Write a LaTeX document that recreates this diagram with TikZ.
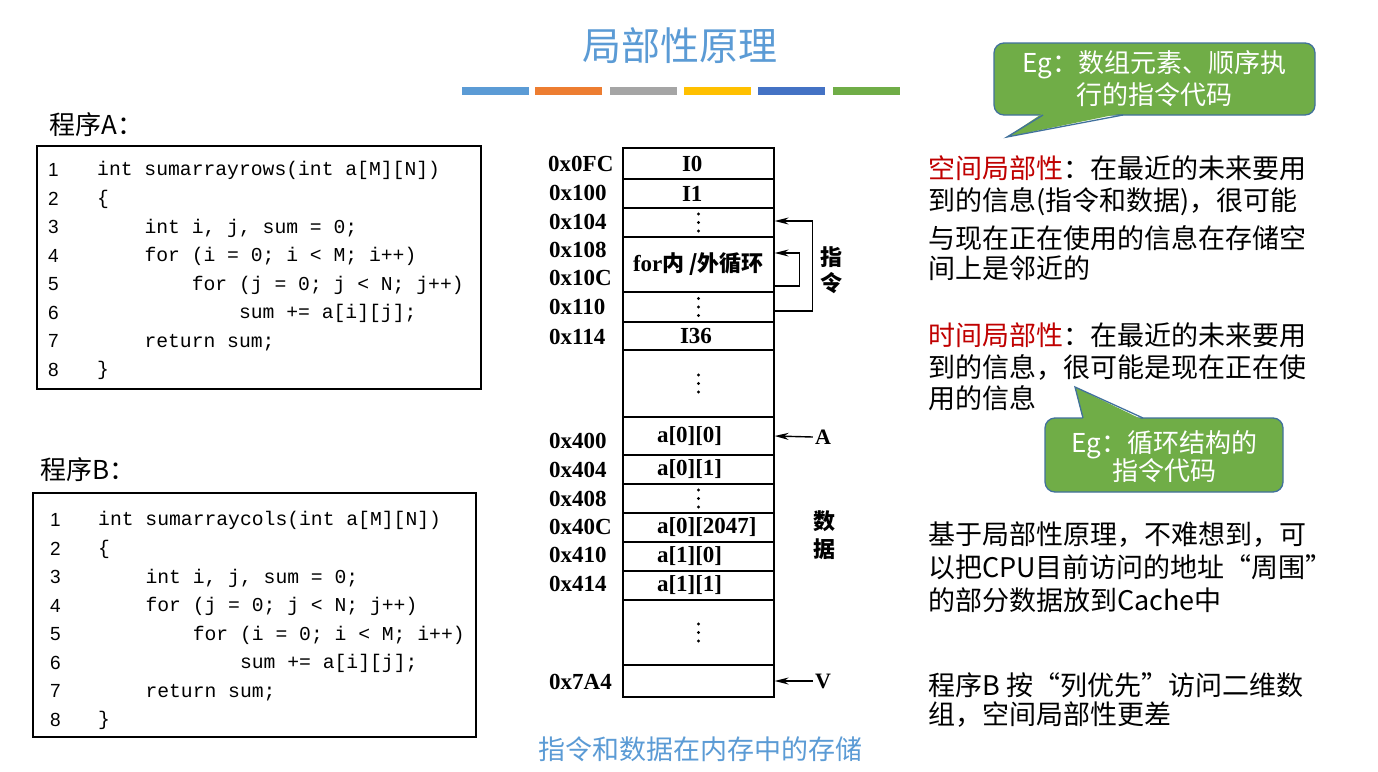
\documentclass[tikz,border=0pt]{standalone}
\usepackage{fontspec}
\setmainfont{Liberation Serif}
\newfontfamily\cjk{Noto Sans CJK SC}
\newfontfamily\codefont{Liberation Mono}
\newfontfamily\numfont{Liberation Sans}
\usetikzlibrary{arrows.meta,calc}
\definecolor{ttlblue}{HTML}{5B9BD5}
\definecolor{barorange}{HTML}{ED7D31}
\definecolor{bargray}{HTML}{A5A5A5}
\definecolor{baryellow}{HTML}{FFC000}
\definecolor{bardblue}{HTML}{4472C4}
\definecolor{bargreen}{HTML}{70AD47}
\definecolor{hred}{HTML}{C00000}
\definecolor{cofill}{HTML}{70AD47}
\definecolor{coline}{HTML}{41719C}
\begin{document}
\begin{tikzpicture}[x=1pt,y=-1pt,
  codeln/.style={anchor=west,inner sep=0pt,font=\codefont\fontsize{19.7}{24}\selectfont,text height=15pt,text depth=3.2pt},
  lnum/.style={anchor=west,inner sep=0pt,font=\numfont\fontsize{19}{22}\selectfont,text height=14pt,text depth=1.1pt},
  codebox/.style={draw,line width=1.3pt,inner sep=0pt},
  plabel/.style={anchor=west,inner sep=0pt,font=\cjk\fontsize{26}{30}\selectfont},
  mcell/.style={draw,line width=1.2pt,minimum width=151pt,inner sep=0pt,font=\bfseries\fontsize{23}{26}\selectfont},
  addr/.style={anchor=west,inner sep=0pt,font=\bfseries\fontsize{23}{26}\selectfont},
  side/.style={inner sep=0pt,font=\cjk\bfseries\fontsize{22}{26}\selectfont},
  arr/.style={line width=1.4pt,-{Stealth[length=14pt,width=7pt]}},
  rtext/.style={anchor=west,inner sep=0pt,font=\cjk\fontsize{27}{32}\selectfont},
  cobox/.style={draw=coline,fill=cofill,line width=1.3pt,rounded corners=10pt,inner sep=0pt},
  cotext/.style={inner sep=0pt,text=white,font=\cjk\fontsize{26}{30}\selectfont}]
\useasboundingbox (0,0) rectangle (1378,771);
\fill[white] (0,0) rectangle (1378,771);

% title and bars
\node[inner sep=0pt,text=ttlblue,font=\cjk\fontsize{39}{46}\selectfont] (title) at (680,46) {局部性原理};
\fill[ttlblue] (462,87) rectangle (529,95);
\fill[barorange] (535,87) rectangle (602,95);
\fill[bargray] (610,87) rectangle (677,95);
\fill[baryellow] (684,87) rectangle (751,95);
\fill[bardblue] (758,87) rectangle (825,95);
\fill[bargreen] (833,87) rectangle (900,95);

% program A
\node[plabel] (pA) at (49,125) {程序A：};
\node[codebox,minimum width=444pt,minimum height=243pt] (boxA) at (259,267.5) {};
\foreach \i in {1,...,8} \node[lnum] (nA\i) at (48,{170+(\i-1)*28.57}) {\i};
\node[codeln] (a1) at (97,170) {int sumarrayrows(int a[M][N])};
\node[codeln] (a2) at (97,198.57) {\{};
\node[codeln] (a3) at (144.3,227.14) {int i, j, sum = 0;};
\node[codeln] (a4) at (144.3,255.71) {for (i = 0; i < M; i++)};
\node[codeln] (a5) at (191.6,284.28) {for (j = 0; j < N; j++)};
\node[codeln] (a6) at (238.9,312.85) {sum += a[i][j];};
\node[codeln] (a7) at (144.3,341.42) {return sum;};
\node[codeln] (a8) at (97,370) {\}};

% program B
\node[plabel] (pB) at (40,470) {程序B：};
\node[codebox,minimum width=443pt,minimum height=244pt] (boxB) at (254.5,615) {};
\foreach \i in {1,...,8} \node[lnum] (nB\i) at (50,{520+(\i-1)*28.57}) {\i};
\node[codeln] (b1) at (98,520) {int sumarraycols(int a[M][N])};
\node[codeln] (b2) at (98,548.57) {\{};
\node[codeln] (b3) at (145.3,577.14) {int i, j, sum = 0;};
\node[codeln] (b4) at (145.3,605.71) {for (j = 0; j < N; j++)};
\node[codeln] (b5) at (192.6,634.28) {for (i = 0; i < M; i++)};
\node[codeln] (b6) at (239.9,662.85) {sum += a[i][j];};
\node[codeln] (b7) at (145.3,691.42) {return sum;};
\node[codeln] (b8) at (98,720) {\}};

% memory column
\node[mcell,minimum height=31pt] (c1) at (698.5,163.5) {\makebox[151pt][l]{\hspace{59pt}I0}};
\node[mcell,minimum height=29pt] (c2) at (698.5,193.5) {\makebox[151pt][l]{\hspace{59pt}I1}};
\node[mcell,minimum height=29pt] (c3) at (698.5,222.5) {};
\node[mcell,minimum height=55pt] (c4) at (698.5,264.5) {for{\cjk\bfseries\fontsize{22}{26}\selectfont 内 /外循环}};
\node[mcell,minimum height=30pt] (c5) at (698.5,307) {};
\node[mcell,minimum height=28pt] (c6) at (698.5,336) {\makebox[151pt][l]{\hspace{57pt}I36}};
\node[mcell,minimum height=67pt] (c7) at (698.5,383.5) {};
\node[mcell,minimum height=38pt] (c8) at (698.5,436) {\makebox[151pt][l]{\hspace{34pt}a[0][0]}};
\node[mcell,minimum height=29pt] (c9) at (698.5,469.5) {\makebox[151pt][l]{\hspace{34pt}a[0][1]}};
\node[mcell,minimum height=29pt] (c10) at (698.5,498.5) {};
\node[mcell,minimum height=29pt] (c11) at (698.5,527.5) {\makebox[151pt][l]{\hspace{34pt}a[0][2047]}};
\node[mcell,minimum height=29pt] (c12) at (698.5,556.5) {\makebox[151pt][l]{\hspace{34pt}a[1][0]}};
\node[mcell,minimum height=29pt] (c13) at (698.5,585.5) {\makebox[151pt][l]{\hspace{34pt}a[1][1]}};
\node[mcell,minimum height=65pt] (c14) at (698.5,632.5) {};
\node[mcell,minimum height=32pt] (c15) at (698.5,681) {};
\foreach \c in {c3,c5,c7,c10,c14}
  \foreach \d in {-8.5,0,8.5}
    \fill ($(\c.center)+(0,\d)$) circle (1.7pt);

% addresses
\node[addr] (ad1) at (548,164) {0x0FC};
\node[addr] (ad2) at (549,193) {0x100};
\node[addr] (ad3) at (549,222) {0x104};
\node[addr] (ad4) at (549,250) {0x108};
\node[addr] (ad5) at (549,278) {0x10C};
\node[addr] (ad6) at (549,307) {0x110};
\node[addr] (ad7) at (549,337) {0x114};
\node[addr] (ad8) at (549,441) {0x400};
\node[addr] (ad9) at (549,470) {0x404};
\node[addr] (ad10) at (549,499) {0x408};
\node[addr] (ad11) at (549,527) {0x40C};
\node[addr] (ad12) at (549,555) {0x410};
\node[addr] (ad13) at (549,584) {0x414};
\node[addr] (ad14) at (549,682) {0x7A4};

% loop arrows
\draw[arr] ([yshift=-4pt]c5.east) -- ++(38,0) |- ([yshift=1.5pt]c3.east);
\draw[arr] ([yshift=-21.5pt]c4.east) -- ++(25,0) |- ([yshift=11.5pt]c4.east);
\node[side] (zhi) at (831,257) {指};
\node[side] (ling) at (831,283) {令};
\node[side] (shu) at (824,521) {数};
\node[side] (ju) at (824,549) {据};
\node[inner sep=2pt,font=\bfseries\fontsize{22}{26}\selectfont] (lA) at (823,437) {A};
\node[inner sep=2pt,font=\bfseries\fontsize{22}{26}\selectfont] (lV) at (823,681) {V};
\draw[arr] (lA.west) -- (c8.east);
\draw[arr] (lV.west) -- (c15.east);

\node[inner sep=0pt,text=ttlblue,font=\cjk\fontsize{27}{32}\selectfont] (cap) at (700,749) {指令和数据在内存中的存储};

% callout 1
\node[cobox,minimum width=321pt,minimum height=72pt] (co1) at (1154.5,79) {};
\coordinate (t1) at (1007,137);
\fill[cofill] (t1) -- (1043,113) -- (1123,113) -- cycle;
\draw[coline,line width=1.3pt] (1043,115) -- (t1) -- (1123,115);
\node[cotext] (co1a) at (1154,65) {Eg：数组元素、顺序执};
\node[cotext] (co1b) at (1154,95) {行的指令代码};

% right texts
\node[rtext] (s1) at (928,168) {{\color{hred}空间局部性}：在最近的未来要用};
\node[rtext] (s2) at (928,202) {到的信息(指令和数据)，很可能};
\node[rtext] (s3) at (928,238) {与现在正在使用的信息在存储空};
\node[rtext] (s4) at (928,268) {间上是邻近的};
\node[rtext] (t1a) at (928,335) {{\color{hred}时间局部性}：在最近的未来要用};
\node[rtext] (t2a) at (928,367) {到的信息，很可能是现在正在使};
\node[rtext] (t3a) at (928,398) {用的信息};

% callout 2
\node[cobox,minimum width=238pt,minimum height=74pt] (co2) at (1164,455) {};
\coordinate (t2) at (1075,387);
\fill[cofill] (t2) -- (1083,420) -- (1143,420) -- cycle;
\draw[coline,line width=1.3pt] (1083,418) -- (t2) -- (1143,418);
\node[cotext] (co2a) at (1164,445) {Eg：循环结构的};
\node[cotext] (co2b) at (1164,471) {指令代码};

\node[rtext] (u1) at (928,535) {基于局部性原理，不难想到，可};
\node[rtext] (u2) at (928,567) {以把CPU目前访问的地址“周围”};
\node[rtext] (u3) at (928,600) {的部分数据放到Cache中};
\node[rtext] (v1) at (928,685) {程序B 按“列优先”访问二维数};
\node[rtext] (v2) at (928,715) {组，空间局部性更差};
\end{tikzpicture}
\end{document}
